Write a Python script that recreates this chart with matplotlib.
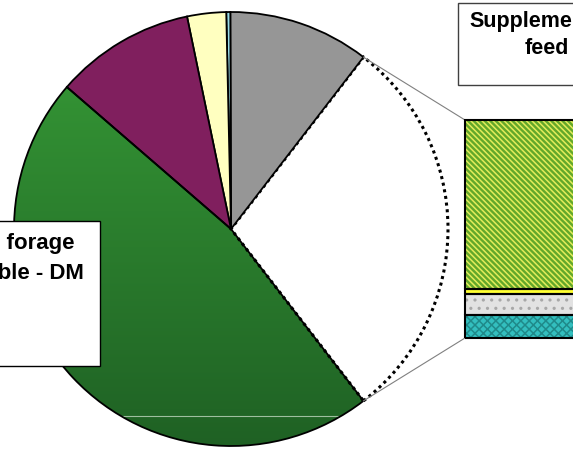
import numpy as np
import matplotlib
matplotlib.use("Agg")
import matplotlib.pyplot as plt
from matplotlib.colors import LinearSegmentedColormap

plt.rcParams['font.family'] = ['Liberation Sans', 'DejaVu Sans']
plt.rcParams['hatch.linewidth'] = 1.1

# pie slices, counter-clockwise from the grey one; last one is split into the bar
pie_names = ['Concentrates', 'Minerals', 'Hay', 'Silage', 'Farm forage', 'Supplementary feed']
pie_values = [10.5, 0.3, 2.9, 10.4, 46.8, 29.1]
pie_colors = ['#969696', '#99dde8', '#ffffc0', '#801f5e', '#339933', 'white']

# breakdown of the supplementary feed, bottom to top
bar_names = ['Feed A', 'Feed B', 'Feed C', 'Feed D']
bar_values = [10.6, 9.6, 2.3, 77.0]
bar_colors = ['#33bfbf', '#e2e2e2', '#ffff33', '#62a82a']
bar_hatch = ['xxxx', '..', '', '\\\\\\\\\\\\']
bar_hatch_colors = ['#1f8a8a', '#a8a8a8', '#ffff33', '#e4ec5a']

label_left = 'Farm forage\navailable - DM'
label_right = 'Supplementary\nfeed'

W, H = 573, 450


def main():
    fig = plt.figure(figsize=(W / 100, H / 100), dpi=100)
    ax = fig.add_axes([0, 0, 1, 1])

    cx, cy, r = 231, H - 229, 217
    start = pie_values[-1] / 2 * 3.6
    wedges, _ = ax.pie(pie_values, colors=pie_colors, startangle=start,
                       center=(cx, cy), radius=r,
                       wedgeprops=dict(edgecolor='black', linewidth=1.3))

    # green slice has a vertical gradient
    green = wedges[4]
    green.set_facecolor('none')
    cmap = LinearSegmentedColormap.from_list('g', ['#379c37', '#1f6124'])
    grad = np.linspace(0, 1, 256).reshape(-1, 1)
    im = ax.imshow(grad, cmap=cmap, extent=(cx - r, cx + r, cy - r, cy + r),
                   aspect='auto', zorder=0.5)
    im.set_clip_path(green)
    ln, = ax.plot([cx - r, cx + r], [H - 416, H - 416], color='#9fbf9f', lw=0.8, zorder=0.6)
    ln.set_clip_path(green)

    white = wedges[5]
    white.set_linestyle((0, (1, 1.2)))
    white.set_linewidth(2.2)
    white.set_zorder(0.9)

    # stacked bar
    bar_left, bar_w = 465, 200
    bar_bottom, bar_h = H - 338, 218
    scale = bar_h / sum(bar_values)
    bottom = bar_bottom
    for v, c, ht, hc in zip(bar_values, bar_colors, bar_hatch, bar_hatch_colors):
        ax.bar(bar_left, v * scale, width=bar_w, bottom=bottom, align='edge',
               color=c, hatch=ht, edgecolor=hc, linewidth=0, zorder=2)
        ax.bar(bar_left, v * scale, width=bar_w, bottom=bottom, align='edge',
               fill=False, edgecolor='black', linewidth=1.5, zorder=3)
        bottom += v * scale

    # connector lines
    a = np.deg2rad(start)
    ax.plot([cx + r * np.cos(a), bar_left], [cy + r * np.sin(a), bar_bottom + bar_h],
            color='#808080', lw=0.8, zorder=1.5)
    ax.plot([cx + r * np.cos(-a), bar_left], [cy + r * np.sin(-a), bar_bottom],
            color='#808080', lw=0.8, zorder=1.5)

    # label boxes
    ax.add_patch(plt.Rectangle((-20, H - 366), 120, 145, facecolor='white',
                               edgecolor='black', lw=1.0, zorder=4))
    ax.text(10, H - 233, label_left, ha='center', va='top', multialignment='center',
            fontsize=16, fontweight='bold', zorder=5, linespacing=1.55)
    ax.add_patch(plt.Rectangle((458, H - 85), 140, 82, facecolor='white',
                               edgecolor='#404040', lw=1.0, zorder=4))
    ax.text(547, H - 11, label_right, ha='center', va='top', multialignment='center',
            fontsize=15.5, fontweight='bold', zorder=5, linespacing=1.35)

    ax.set_aspect('auto')
    ax.set_xlim(0, W)
    ax.set_ylim(0, H)
    ax.axis('off')
    fig.savefig('out.png', dpi=100, facecolor='white')


if __name__ == "__main__":
    main()
